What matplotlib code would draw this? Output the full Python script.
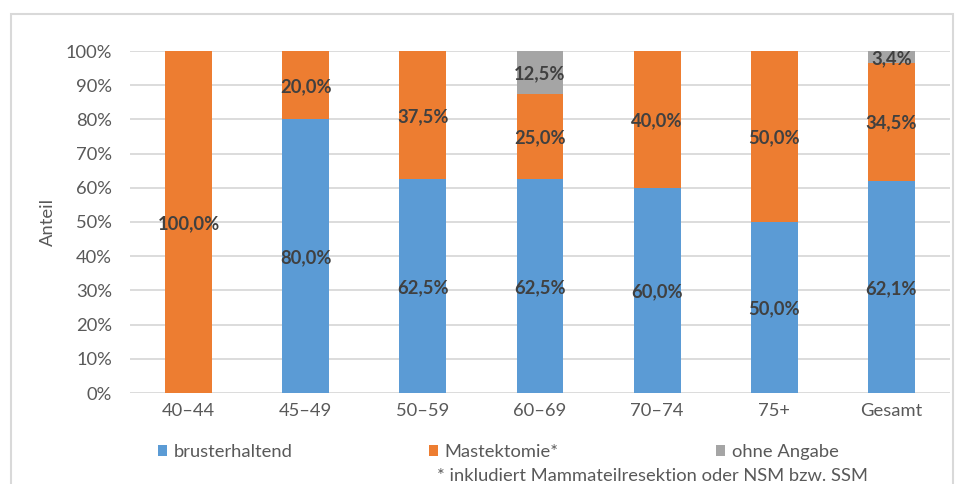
import numpy as np
import matplotlib.pyplot as plt
from matplotlib.patches import Rectangle

plt.rcParams['font.family'] = ['Lato', 'DejaVu Sans']

categories = ["40–44", "45–49", "50–59", "60–69", "70–74", "75+", "Gesamt"]
brusterhaltend = [0, 80.0, 62.5, 62.5, 60.0, 50.0, 62.1]
mastektomie = [100.0, 20.0, 37.5, 25.0, 40.0, 50.0, 34.5]
ohne_angabe = [0, 0, 0, 12.5, 0, 0, 3.4]

series = [("brusterhaltend", brusterhaltend, "#5b9bd5"),
          ("Mastektomie*", mastektomie, "#ed7d31"),
          ("ohne Angabe", ohne_angabe, "#a5a5a5")]

txt = "#595959"
grid = "#d9d9d9"
fs = 13.2

fig = plt.figure(figsize=(9.57, 4.84), dpi=100)
ax = fig.add_axes([130 / 957, 91 / 484, 820 / 957, 342 / 484])

x = np.arange(len(categories))
bottom = np.zeros(len(categories))
handles = []
for name, vals, col in series:
    vals = np.array(vals)
    b = ax.bar(x, vals, 0.4, bottom=bottom, color=col, label=name, zorder=2)
    handles.append(b)
    for xi, v, bt in zip(x, vals, bottom):
        if v > 0:
            ax.text(xi, bt + v / 2, f"{v:.1f}%".replace(".", ","),
                    ha="center", va="center_baseline", fontsize=fs, fontweight="bold",
                    color="#404040", zorder=3)
    bottom += vals

ax.set_xlim(-0.5, len(categories) - 0.5)
ax.set_ylim(0, 100)
ax.set_yticks(np.arange(0, 101, 10))
ax.set_yticklabels([f"{v}%" for v in range(0, 101, 10)])
ax.set_xticks(x)
ax.set_xticklabels(categories)
ax.yaxis.grid(True, color=grid, lw=1.3, zorder=0)
ax.set_axisbelow(True)
for s in ax.spines.values():
    s.set_visible(False)
ax.tick_params(length=0, colors=txt, labelsize=fs)
ax.tick_params(axis="y", pad=13)
ax.tick_params(axis="x", pad=7)
ax.set_ylabel("Anteil", color=txt, fontsize=fs)
ax.yaxis.set_label_coords(-0.09, 0.5)

# one legend per entry, placed like the original
legend_x = [158, 429, 716]
for h, lx in zip(handles, legend_x):
    leg = fig.legend(handles=[h], loc="center left",
                     bbox_to_anchor=(lx / 957, 1 - 452 / 484),
                     frameon=False, fontsize=fs, labelcolor=txt,
                     handlelength=0.5, handleheight=0.5, handletextpad=0.35,
                     borderaxespad=0, borderpad=0)
fig.text(437 / 957, 1 - 476 / 484, "* inkludiert Mammateilresektion oder NSM bzw. SSM",
         color=txt, fontsize=fs, ha="left", va="center")

fig.patches.append(Rectangle((11 / 957, -0.1), 942 / 957, 1.1 - 14 / 484,
                             transform=fig.transFigure, fill=False,
                             edgecolor=grid, lw=1.5))

fig.savefig("out.png", dpi=100)
